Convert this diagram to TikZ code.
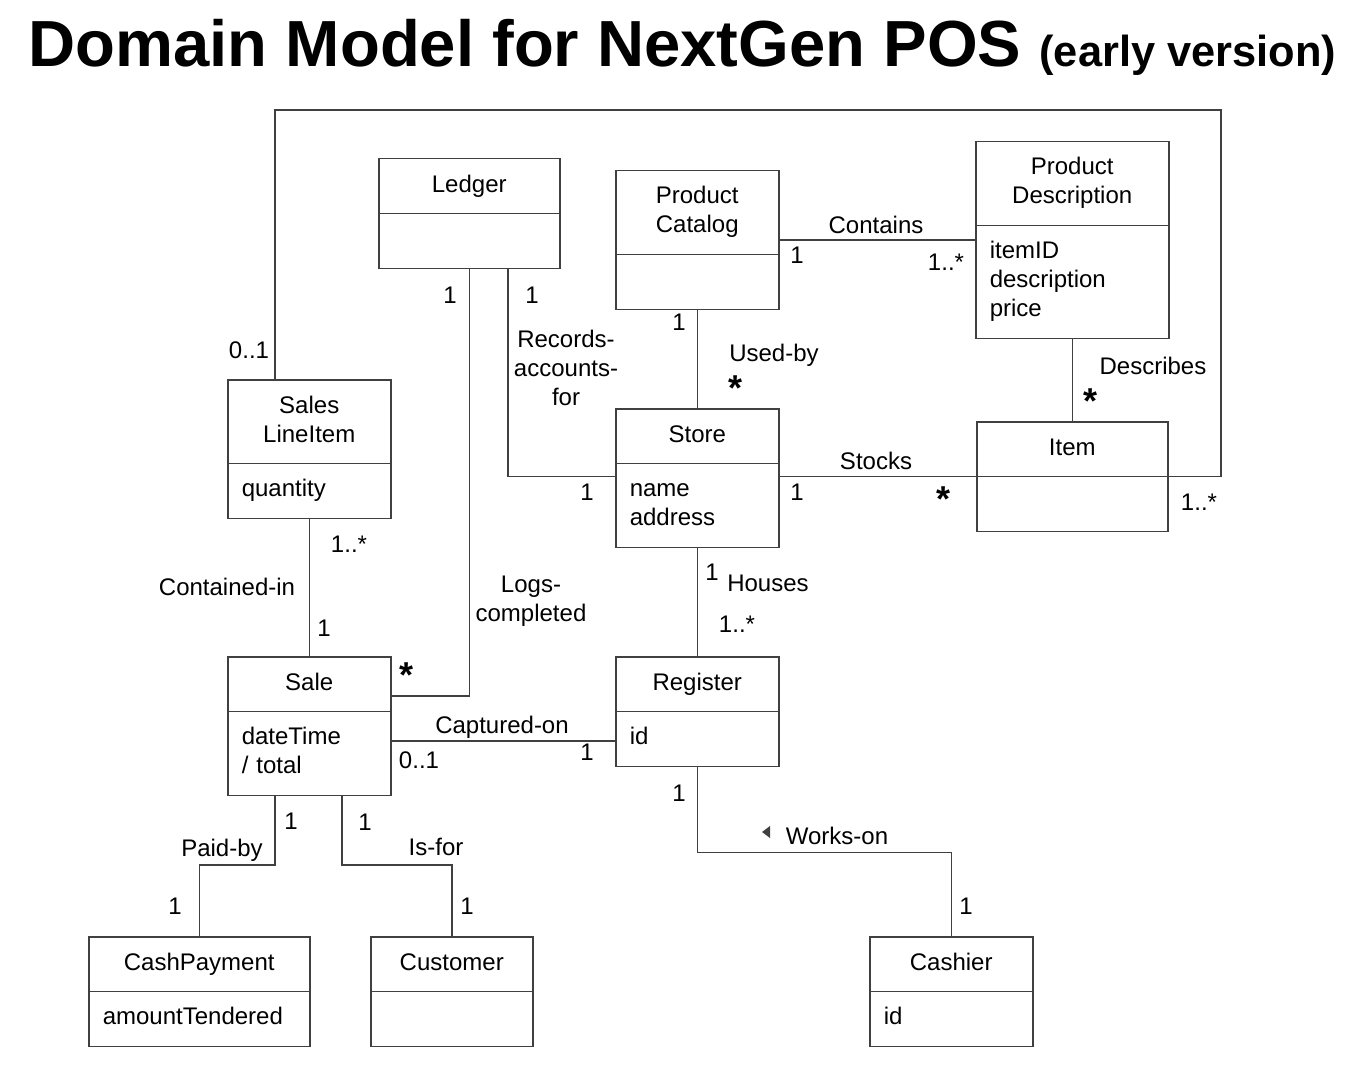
\documentclass[tikz,border=0pt]{standalone}
\usepackage{fontspec}
\setmainfont{Liberation Sans}
\usetikzlibrary{shapes.multipart}
\definecolor{linec}{gray}{0.25}
\newcommand{\classattrs}[1]{\raggedright #1\strut\par}

\begin{document}
\begin{tikzpicture}[x=0.5pt,y=-0.5pt,line width=0.75pt,font=\fontsize{12}{14.5}\selectfont,
  class/.style={draw=linec,rectangle split,rectangle split parts=2,anchor=north west,inner xsep=7pt,inner ysep=6.1pt,align=center,execute at begin node=\strut,execute at end node=\ifhmode\strut\fi},
  conn/.style={draw=linec},
  mult/.style={inner sep=0pt,text height=8.6pt,text depth=0pt},
  multi line/.style={inner sep=0pt,align=center},
  star/.style={inner sep=0pt,font=\bfseries\fontsize{18}{18}\selectfont}]
  \useasboundingbox (0,0) rectangle (1362,1070);

  \node[anchor=base west,inner sep=0pt] (title) at (28,67) {\bfseries\fontsize{32.6}{36}\selectfont Domain Model for NextGen POS {\fontsize{21.7}{24}\selectfont (early version)}};

  % classes
  \node[class,text width=76.5pt] (ledger) at (378,158) {Ledger\nodepart{two}};
  \node[class,text width=67.5pt] (catalog) at (615,170) {Product\\Catalog\nodepart{two}};
  \node[class,text width=82.5pt] (desc) at (975,141) {Product\\Description\nodepart{two}\classattrs{itemID\\description\\price}};
  \node[class,text width=67.5pt] (lineitem) at (227,379) {Sales\\LineItem\nodepart{two}\classattrs{quantity}};
  \node[class,text width=67.5pt] (store) at (615,408) {Store\nodepart{two}\classattrs{name\\address}};
  \node[class,text width=81.5pt] (item) at (976,421) {Item\nodepart{two}};
  \node[class,text width=67.5pt] (sale) at (227,656) {Sale\nodepart{two}\classattrs{dateTime\\/ total}};
  \node[class,text width=67.5pt] (register) at (615,656) {Register\nodepart{two}\classattrs{id}};
  \node[class,text width=96.5pt] (payment) at (88,936) {CashPayment\nodepart{two}\classattrs{amountTendered}};
  \node[class,text width=67pt] (customer) at (370,936) {Customer\nodepart{two}};
  \node[class,text width=67.5pt] (cashier) at (869,936) {Cashier\nodepart{two}\classattrs{id}};

  % associations
  \draw[conn] (lineitem.north -| 275,0) |- (1221,110) |- (item.east);
  \draw[conn] (ledger.south) |- (sale.east |- 0,696);
  \draw[conn] (ledger.south -| 508,0) |- (store.west |- item.west);
  \draw[conn] (catalog.east) -- (desc.west);
  \draw[conn] (catalog.south) -- (store.north);
  \draw[conn] (desc.south) -- (item.north);
  \draw[conn] (store.east |- item.west) -- (item.west);
  \draw[conn] (lineitem.south) -- (sale.north);
  \draw[conn] (store.south) -- (register.north);
  \draw[conn] (sale.east |- 0,741) -- (register.west |- 0,741);
  \draw[conn] (register.south) -- ++(0,85) -| (cashier.north);
  \draw[conn] (sale.south -| 275,0) -- (275,865) -| (payment.north);
  \draw[conn] (sale.south -| 342,0) -- (342,865) -| (customer.north);
  \fill[linec] (770,826) -- (770,838) -- (762,832) -- cycle;

  % labels
  \node[mult] (li-m1) at (249,350) {0..1};
  \node[mult] (li-m2) at (1199,502) {1..*};
  \node[mult] (ls-m1) at (450,295) {1};
  \node[star] (ls-m2) at (407,675) {*};
  \node[multi line] (ls-name) at (531,601) {Logs-\\completed};
  \node[mult] (lr-m1) at (532,295) {1};
  \node[mult] (lr-m2) at (587,492) {1};
  \node[multi line] (lr-name) at (566,368) {Records-\\accounts-\\for};
  \node[mult] (cd-name) at (876,225) {Contains};
  \node[mult] (cd-m1) at (797,255) {1};
  \node[mult] (cd-m2) at (946,262) {1..*};
  \node[mult] (cs-m1) at (679,322) {1};
  \node[mult] (cs-name) at (774,353) {Used-by};
  \node[star] (cs-m2) at (736,388) {*};
  \node[mult] (di-name) at (1153,366) {Describes};
  \node[star] (di-m2) at (1090,401) {*};
  \node[mult] (si-name) at (876,461) {Stocks};
  \node[mult] (si-m1) at (797,492) {1};
  \node[star] (si-m2) at (943,499) {*};
  \node[mult] (ll-m1) at (349,544) {1..*};
  \node[mult] (ll-name) at (227,587) {Contained-in};
  \node[mult] (ll-m2) at (324,628) {1};
  \node[mult] (sr-m1) at (712,572) {1};
  \node[mult] (sr-name) at (768,583) {Houses};
  \node[mult] (sr-m2) at (737,624) {1..*};
  \node[mult] (cr-name) at (502,725) {Captured-on};
  \node[mult] (cr-m1) at (419,760) {0..1};
  \node[mult] (cr-m2) at (587,752) {1};
  \node[mult] (rc-m1) at (679,793) {1};
  \node[mult] (rc-name) at (837,836) {Works-on};
  \node[mult] (rc-m2) at (966,906) {1};
  \node[mult] (sp-m1) at (291,821) {1};
  \node[mult] (sp-name) at (222,848) {Paid-by};
  \node[mult] (sp-m2) at (175,906) {1};
  \node[mult] (sc-m1) at (365,822) {1};
  \node[mult] (sc-name) at (436,847) {Is-for};
  \node[mult] (sc-m2) at (467,906) {1};
\end{tikzpicture}
\end{document}
